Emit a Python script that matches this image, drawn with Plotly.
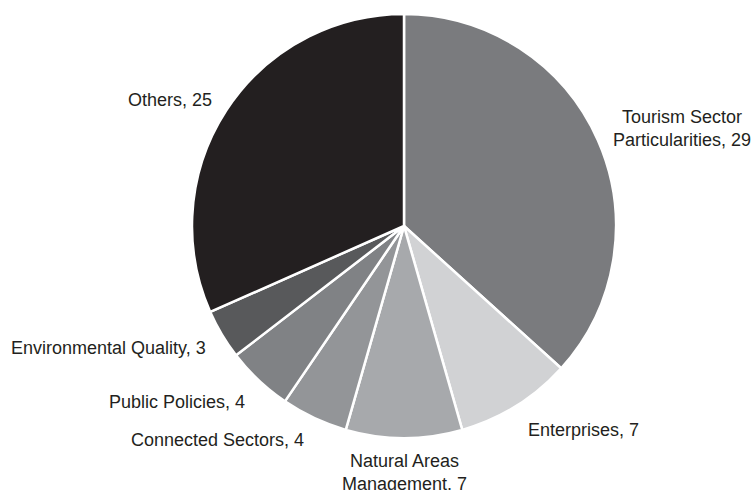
import plotly.graph_objects as go

labels = ["Tourism Sector<br>Particularities", "Enterprises", "Natural Areas<br>Management",
          "Connected Sectors", "Public Policies", "Environmental Quality", "Others"]
values = [29, 7, 7, 4, 4, 3, 25]
colors = ["#7a7b7e", "#d1d2d4", "#a7a9ac", "#939598", "#808285", "#58595b", "#231f20"]

# label centre positions in page pixels (style, not data)
label_px = [(682, 128), (583, 430), (404, 472), (217, 440), (177, 402), (108, 348), (170, 100)]

W, H = 753, 490
cx, cy, r = 404, 226, 212

fig = go.Figure(go.Pie(
    labels=labels, values=values, sort=False, direction="clockwise", rotation=0,
    marker=dict(colors=colors, line=dict(color="white", width=2.5)),
    textinfo="none",
    domain=dict(x=[(cx - r) / W, (cx + r) / W], y=[(H - cy - r) / H, (H - cy + r) / H]),
    showlegend=False, hoverinfo="label+value",
))

for lab, val, (px, py) in zip(labels, values, label_px):
    fig.add_annotation(
        text=f"{lab}, {val}", xref="paper", yref="paper",
        x=px / W, y=1 - py / H, xanchor="center", yanchor="middle",
        showarrow=False, align="center",
        font=dict(family="Liberation Sans, Arial", size=18, color="#231f20"),
    )

fig.update_layout(width=W, height=H, margin=dict(l=0, r=0, t=0, b=0),
                  paper_bgcolor="white", plot_bgcolor="white")
fig.write_html("out.html", config={"displayModeBar": False},
               post_script="document.body.style.margin='0';document.body.style.overflow='hidden';")
